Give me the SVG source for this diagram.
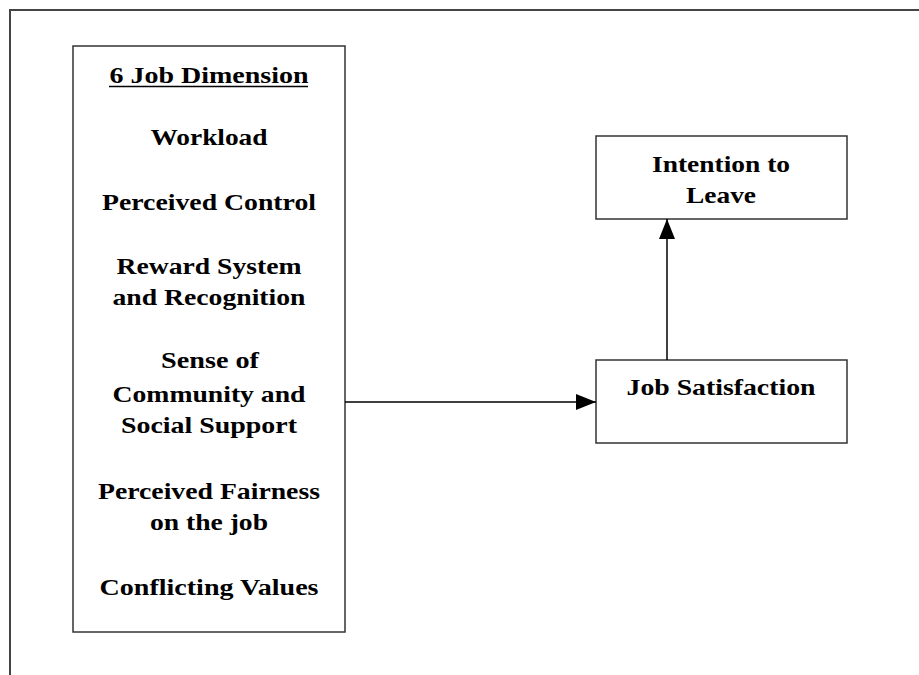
<svg xmlns="http://www.w3.org/2000/svg" width="919" height="675" viewBox="0 0 919 675">
  <defs>
    <style>
      .box { fill: #ffffff; stroke: #333333; stroke-width: 1.5; }
      .frame { fill: none; stroke: #444444; stroke-width: 2; }
      .lbl { font-family: "Liberation Serif", "Times New Roman", serif; font-weight: bold; font-size: 24px; fill: #000000; text-anchor: middle; }
      .edge { stroke: #000000; stroke-width: 1.5; fill: none; }
    </style>
    <marker id="arrow" markerWidth="20" markerHeight="16" refX="20" refY="8" orient="auto" markerUnits="userSpaceOnUse">
      <path d="M0,0 L20,8 L0,16 Z" fill="#000000"/>
    </marker>
  </defs>
  <rect width="919" height="675" fill="#ffffff"/>
  <rect class="frame" x="10" y="10" width="930" height="700"/>

  <g id="dimensions">
    <rect class="box" x="73" y="46" width="272" height="586"/>
    <text class="lbl" x="209" y="83" textLength="199" lengthAdjust="spacingAndGlyphs">6 Job Dimension</text>
    <line x1="109" y1="86.5" x2="308" y2="86.5" stroke="#000000" stroke-width="1.6"/>
    <text class="lbl" x="209" y="145" textLength="117" lengthAdjust="spacingAndGlyphs">Workload</text>
    <text class="lbl" x="209" y="210" textLength="214" lengthAdjust="spacingAndGlyphs">Perceived Control</text>
    <text class="lbl" x="209" y="274" textLength="185" lengthAdjust="spacingAndGlyphs">Reward System</text>
    <text class="lbl" x="209" y="305" textLength="193" lengthAdjust="spacingAndGlyphs">and Recognition</text>
    <text class="lbl" x="210" y="368" textLength="98" lengthAdjust="spacingAndGlyphs">Sense of</text>
    <text class="lbl" x="209" y="402" textLength="193" lengthAdjust="spacingAndGlyphs">Community and</text>
    <text class="lbl" x="209" y="433" textLength="176" lengthAdjust="spacingAndGlyphs">Social Support</text>
    <text class="lbl" x="209" y="499" textLength="222" lengthAdjust="spacingAndGlyphs">Perceived Fairness</text>
    <text class="lbl" x="209" y="530" textLength="118" lengthAdjust="spacingAndGlyphs">on the job</text>
    <text class="lbl" x="209" y="595" textLength="219" lengthAdjust="spacingAndGlyphs">Conflicting Values</text>
  </g>

  <g id="intention">
    <rect class="box" x="596" y="136" width="251" height="83"/>
    <text class="lbl" x="721" y="172" textLength="138" lengthAdjust="spacingAndGlyphs">Intention to</text>
    <text class="lbl" x="721" y="203" textLength="70" lengthAdjust="spacingAndGlyphs">Leave</text>
  </g>

  <g id="satisfaction">
    <rect class="box" x="596" y="360" width="251" height="83"/>
    <text class="lbl" x="721" y="395" textLength="189" lengthAdjust="spacingAndGlyphs">Job Satisfaction</text>
  </g>

  <g id="connectors">
    <line class="edge" x1="345" y1="402" x2="596" y2="402" marker-end="url(#arrow)"/>
    <line class="edge" x1="667" y1="360" x2="667" y2="219" marker-end="url(#arrow)"/>
  </g>
</svg>
